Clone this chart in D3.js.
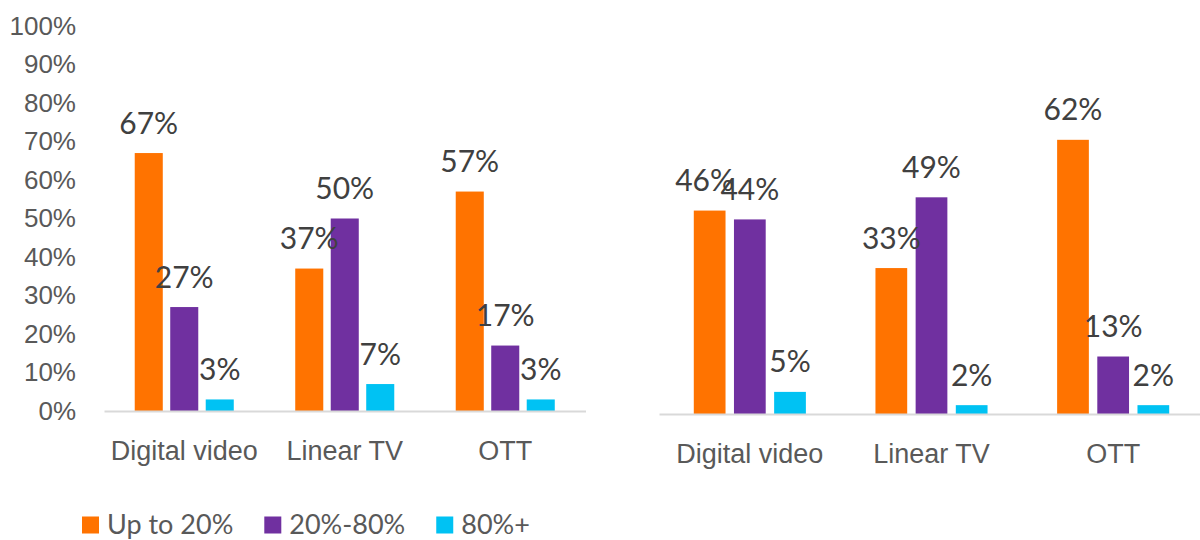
<!DOCTYPE html>
<html>
<head>
<meta charset="utf-8">
<script src="https://cdn.jsdelivr.net/npm/d3@7"></script>
<style>
  body { margin: 0; background: #fff; }
  svg { display: block; font-family: Lato, "Open Sans", sans-serif; }
</style>
</head>
<body>
<svg id="chart" width="1200" height="540"></svg>
<script>
// categories and series shared by both panels
const categories = ['Digital video', 'Linear TV', 'OTT'];
const seriesNames = ['Up to 20%', '20%-80%', '80%+'];
const colors = ['#FF7300', '#7030A0', '#00C2F3'];

// left panel, one array per series (in category order)
const leftUpTo20 = [0.67, 0.37, 0.57];
const left20to80 = [0.27, 0.50, 0.17];
const left80plus = [0.03, 0.07, 0.03];

// right panel
const rightUpTo20 = [0.46, 0.33, 0.62];
const right20to80 = [0.44, 0.49, 0.13];
const right80plus = [0.05, 0.02, 0.02];

const yTicks = [0, 0.1, 0.2, 0.3, 0.4, 0.5, 0.6, 0.7, 0.8, 0.9, 1];

const svg = d3.select('#chart');
const fmt = d3.format('.0%');

// draws one clustered bar panel
function drawPanel(values, xRange, yScale, nudge) {
  const g = svg.append('g');

  const x0 = d3.scaleBand().domain(categories).range(xRange).padding(0);
  const bw = x0.bandwidth();
  const groupRatio = 0.617;
  const x1 = d3.scaleBand()
    .domain(seriesNames)
    .range([bw * (1 - groupRatio) / 2, bw * (1 + groupRatio) / 2])
    .paddingInner(0.21);

  const rows = [];
  seriesNames.forEach((s, si) => {
    categories.forEach((c, ci) => {
      rows.push({ series: s, si, ci, category: c, value: values[si][ci] });
    });
  });

  g.selectAll('rect.bar')
    .data(rows)
    .join('rect')
    .attr('class', 'bar')
    .attr('x', d => x0(d.category) + x1(d.series))
    .attr('y', d => yScale(d.value))
    .attr('width', x1.bandwidth())
    .attr('height', d => yScale(0) - yScale(d.value))
    .attr('fill', d => colors[d.si]);

  // labels sit above the bars; the first label can be pushed sideways a bit
  g.selectAll('text.val')
    .data(rows)
    .join('text')
    .attr('class', 'val')
    .attr('x', d => x0(d.category) + x1(d.series) + x1.bandwidth() / 2
      + (d.si === 0 && d.ci === 0 ? nudge : 0))
    .attr('y', d => yScale(d.value) - 30)
    .attr('dy', '0.35em')
    .attr('text-anchor', 'middle')
    .attr('font-size', 30)
    .attr('fill', '#404040')
    .text(d => fmt(d.value));

  const xAxis = g.append('g')
    .attr('transform', `translate(0,${yScale(0)})`)
    .call(d3.axisBottom(x0).tickSize(0).tickSizeOuter(0).tickPadding(30));
  xAxis.select('.domain').attr('stroke', '#D9D9D9').attr('stroke-width', 2);
  xAxis.selectAll('text')
    .attr('font-family', null)
    .attr('font-size', 27)
    .attr('fill', '#595959');

  return g;
}

// left panel, with its visible y axis
const yLeft = d3.scaleLinear().domain([0, 1]).range([411, 26]);
drawPanel([leftUpTo20, left20to80, left80plus], [104, 585.5], yLeft, 0);

const yAxis = svg.append('g')
  .attr('transform', 'translate(76,0)')
  .call(d3.axisLeft(yLeft).tickValues(yTicks).tickFormat(fmt).tickSize(0).tickPadding(0));
yAxis.select('.domain').remove();
yAxis.selectAll('text')
  .attr('font-family', null)
  .attr('font-size', 26)
  .attr('fill', '#595959');

// right panel has its own (hidden) scale
const yRight = d3.scaleLinear().domain([0, 0.9]).range([414, 16]);
drawPanel([rightUpTo20, right20to80, right80plus], [659, 1204], yRight, -5);

// legend
const legend = svg.append('g').attr('transform', 'translate(82,525)');
let lx = 0;
seriesNames.forEach((s, i) => {
  const item = legend.append('g').attr('transform', `translate(${lx},0)`);
  item.append('rect')
    .attr('x', 0).attr('y', -8.5)
    .attr('width', 17).attr('height', 17)
    .attr('fill', colors[i]);
  const t = item.append('text')
    .attr('x', 25)
    .attr('dy', '0.35em')
    .attr('font-size', 27)
    .attr('fill', '#595959')
    .text(s);
  lx += 25 + t.node().getComputedTextLength() + 31;
});
</script>
</body>
</html>
